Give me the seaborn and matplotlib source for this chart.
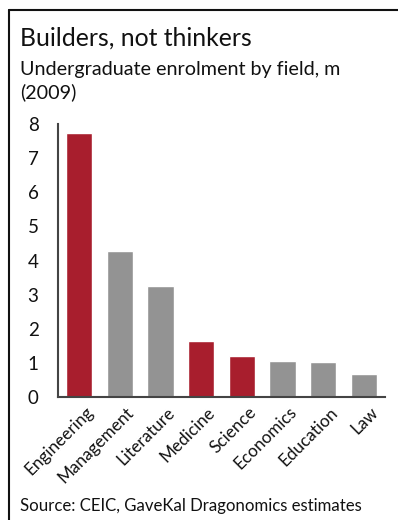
import matplotlib
matplotlib.use("Agg")
import matplotlib.pyplot as plt
import matplotlib.transforms as mtransforms
import seaborn as sns
import pandas as pd
from matplotlib.lines import Line2D

# Enrolment by field of study, millions (2009)
fields = ["Engineering", "Management", "Literature", "Medicine",
          "Science", "Economics", "Education", "Law"]
enrolment = [7.74, 4.28, 3.25, 1.65, 1.20, 1.06, 1.03, 0.68]
highlight = [True, False, False, True, True, False, False, False]
y_ticks = [0, 1, 2, 3, 4, 5, 6, 7, 8]

RED = "#A81E2D"
GREY = "#939393"

sns.set_theme(style="white")
plt.rcParams["font.family"] = ["Lato", "DejaVu Sans"]

df = pd.DataFrame({"field": fields, "value": enrolment,
                   "group": ["hi" if h else "lo" for h in highlight]})

fig = plt.figure(figsize=(3.98, 5.20), dpi=100)
ax = fig.add_axes([58 / 398, 1 - 397 / 520, (385 - 58) / 398, (397 - 124) / 520])

sns.barplot(data=df, x="field", y="value", hue="group",
            palette={"hi": RED, "lo": GREY}, width=0.64, dodge=False,
            legend=False, saturation=1, ax=ax)

ax.set_xlim(-0.52, 7.52)
ax.set_ylim(0, 8)
ax.set_yticks(y_ticks)
ax.set_yticklabels([str(t) for t in y_ticks], fontsize=13.5)
ax.set_xticks(range(len(fields)))
ax.set_xticklabels(fields, rotation=45, ha="right", rotation_mode="anchor",
                   fontsize=12.3)
ax.tick_params(axis="both", length=0, colors="#111111")
ax.tick_params(axis="y", pad=14)
ax.tick_params(axis="x", pad=5)
# nudge the slanted category labels slightly right
shift = mtransforms.ScaledTranslation(6 / 100, 0, fig.dpi_scale_trans)
for lbl in ax.get_xticklabels():
    lbl.set_transform(lbl.get_transform() + shift)
ax.set_xlabel("")
ax.set_ylabel("")
for side in ["top", "right"]:
    ax.spines[side].set_visible(False)
for side in ["left", "bottom"]:
    ax.spines[side].set_color("#444444")
    ax.spines[side].set_linewidth(1.5)

# Panel frame: top and left rules
fig.add_artist(Line2D([9 / 398, 1], [1 - 10 / 520, 1 - 10 / 520],
                      transform=fig.transFigure, color="#111111", lw=1.5))
fig.add_artist(Line2D([9 / 398, 9 / 398], [0, 1 - 10 / 520],
                      transform=fig.transFigure, color="#111111", lw=1.5))

fig.text(20 / 398, 1 - 46 / 520, "Builders, not thinkers", fontsize=17.8,
         color="#111111", ha="left", va="baseline")
fig.text(20 / 398, 1 - 75 / 520, "Undergraduate enrolment by field, m",
         fontsize=14.2, color="#111111", ha="left", va="baseline")
fig.text(20 / 398, 1 - 98 / 520, "(2009)", fontsize=14.2, color="#111111",
         ha="left", va="baseline")
fig.text(20 / 398, 1 - 511 / 520, "Source: CEIC, GaveKal Dragonomics estimates",
         fontsize=12.1, color="#111111", ha="left", va="baseline")

fig.savefig("out.png", dpi=100, facecolor="white")
